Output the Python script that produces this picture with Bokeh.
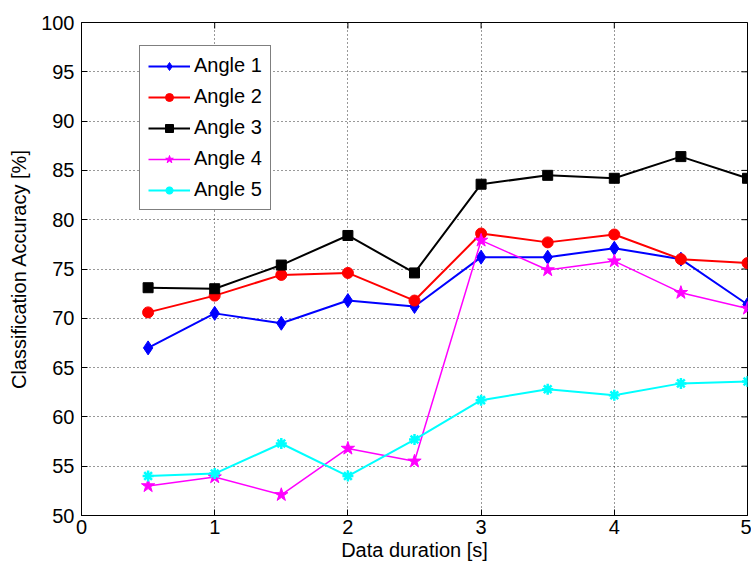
import math
from bokeh.plotting import figure
from bokeh.models import LinearAxis, FixedTicker, Range1d
from bokeh.embed import file_html
from bokeh.resources import INLINE

# Data duration in seconds
duration = [0.5, 1.0, 1.5, 2.0, 2.5, 3.0, 3.5, 4.0, 4.5, 5.0]

# Classification accuracy [%] per angle
angle1 = [67.0, 70.5, 69.5, 71.8, 71.2, 76.2, 76.2, 77.1, 76.0, 71.4]
angle2 = [70.6, 72.3, 74.4, 74.6, 71.8, 78.6, 77.7, 78.5, 76.0, 75.6]
angle3 = [73.1, 73.0, 75.4, 78.4, 74.6, 83.6, 84.5, 84.2, 86.4, 84.2]
angle4 = [53.0, 53.9, 52.1, 56.8, 55.5, 77.9, 74.9, 75.8, 72.6, 71.0]
angle5 = [54.0, 54.25, 57.3, 54.0, 57.7, 61.7, 62.8, 62.2, 63.4, 63.6]

x_ticks = [0, 1, 2, 3, 4, 5]
y_ticks = [50, 55, 60, 65, 70, 75, 80, 85, 90, 95, 100]
x_min, x_max = 0, 5
y_min, y_max = 50, 100

FONT = "Liberation Sans"
FS = "20px"

p = figure(width=751, height=570, output_backend="svg", toolbar_location=None,
           x_range=Range1d(x_min, x_max), y_range=Range1d(y_min, y_max),
           min_border_left=81, min_border_right=4, min_border_top=22,
           min_border_bottom=55, x_axis_location=None, y_axis_location=None)
p.outline_line_color = "black"
p.outline_line_width = 1
p.background_fill_color = "white"
p.border_fill_color = "white"

def style_axis(ax, ticks):
    ax.ticker = FixedTicker(ticks=ticks)
    ax.major_tick_in = 6
    ax.major_tick_out = 0
    ax.minor_tick_line_color = None
    ax.axis_line_color = "black"
    ax.major_tick_line_color = "black"
    ax.major_label_text_font = FONT
    ax.major_label_text_font_size = FS
    ax.major_label_text_color = "black"
    ax.axis_label_text_font = FONT
    ax.axis_label_text_font_size = FS
    ax.axis_label_text_font_style = "normal"
    ax.axis_label_text_color = "black"

xb = LinearAxis(axis_label="Data duration [s]")
style_axis(xb, x_ticks)
xb.major_label_standoff = 4
xb.axis_label_standoff = 2
p.add_layout(xb, "below")

yl = LinearAxis(axis_label="Classification Accuracy [%]")
style_axis(yl, y_ticks)
yl.major_label_standoff = 7
yl.axis_label_standoff = 8
p.add_layout(yl, "left")

# inward tick marks on the top and right edges of the box (half of each
# dash falls outside the frame and is clipped)
p.scatter(x_ticks, [y_max] * len(x_ticks), marker="dash", angle=math.pi / 2,
          size=12, line_color="black", line_width=1)
p.scatter([x_max] * len(y_ticks), y_ticks, marker="dash", size=12,
          line_color="black", line_width=1)

p.xgrid.ticker = FixedTicker(ticks=x_ticks)
p.ygrid.ticker = FixedTicker(ticks=y_ticks)
for g in (p.xgrid, p.ygrid):
    g.grid_line_color = "black"
    g.grid_line_dash = "1 3"
    g.grid_line_width = 1
    g.grid_line_alpha = 0.8

series = [
    ("Angle 1", angle1, "#0000FF", "diamond", 14, 2),
    ("Angle 2", angle2, "#FF0000", "circle", 11, 2),
    ("Angle 3", angle3, "#000000", "square", 10, 2),
    ("Angle 4", angle4, "#FF00FF", "star", 14, 1.5),
    ("Angle 5", angle5, "#00FFFF", "asterisk", 11, 2),
]

for label, ys, color, marker, size, lw in series:
    p.line(duration, ys, line_color=color, line_width=lw, legend_label=label)
    if marker == "asterisk":
        p.scatter(duration, ys, marker=marker, size=size, line_color=color,
                  line_width=2.5, legend_label=label)
    else:
        p.scatter(duration, ys, marker=marker, size=size, fill_color=color,
                  line_color=color, legend_label=label)

lg = p.legend[0]
lg.location = (58, 305)
lg.label_text_font = FONT
lg.label_text_font_size = FS
lg.label_text_color = "black"
lg.border_line_color = "black"
lg.border_line_width = 1
lg.background_fill_color = "white"
lg.background_fill_alpha = 1
lg.padding = 8
lg.spacing = 8
lg.glyph_width = 42
lg.glyph_height = 20
lg.label_height = 20
lg.label_standoff = 4
lg.margin = 0

open("out.html", "w").write(file_html(p, INLINE))
